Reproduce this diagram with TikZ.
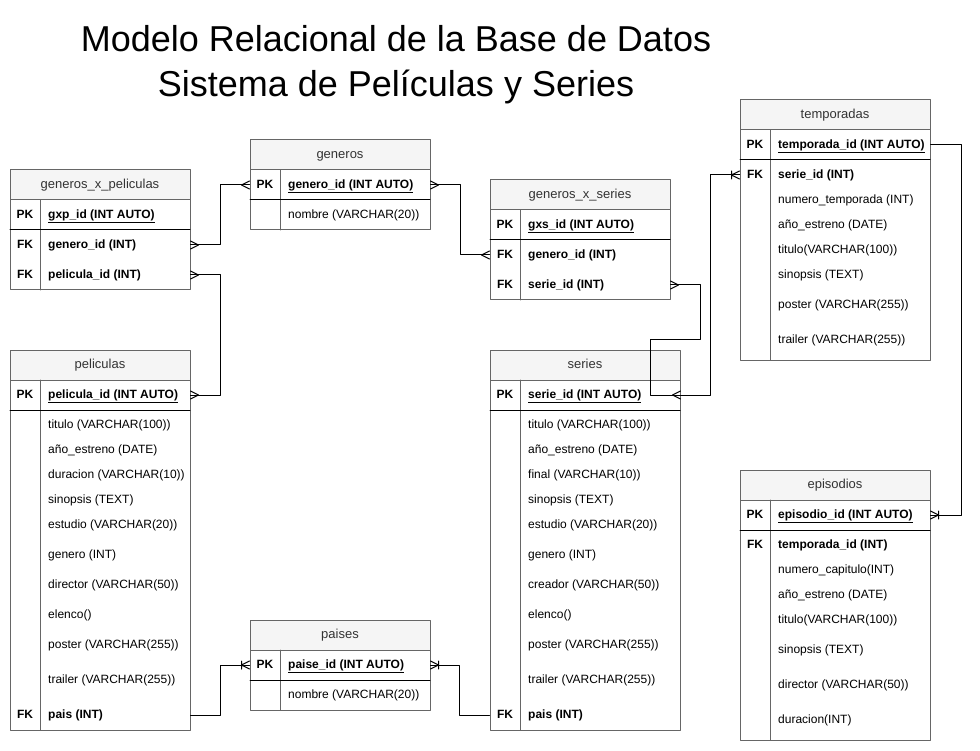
\documentclass[tikz,border=0pt]{standalone}
\usepackage{fontspec}
\setmainfont{Liberation Sans}
\definecolor{hdrfill}{HTML}{F5F5F5}
\definecolor{gridgray}{HTML}{666666}
\definecolor{hdrtext}{HTML}{333333}

\begin{document}
\begin{tikzpicture}[x=1pt, y=-1pt, line cap=round, line join=round,
  hdr/.style={draw=gridgray, line width=1pt, fill=hdrfill, minimum height=30pt, inner sep=0pt,
    text=hdrtext, text height=9.5pt, text depth=2.5pt, font=\fontsize{13}{15}\selectfont},
  outline/.style={draw=gridgray, line width=1pt},
  pksep/.style={draw=black, line width=1pt},
  keylbl/.style={inner sep=0pt, text height=9pt, text depth=2pt, font=\fontsize{12}{14}\selectfont\bfseries},
  fld/.style={anchor=west, inner sep=0pt, text height=9pt, text depth=2pt, font=\fontsize{12}{14}\selectfont},
  keyfld/.style={fld, font=\fontsize{12}{14}\selectfont\bfseries},
  rel/.style={draw=black, line width=1pt},
  many/.pic={\draw[rel] (8,0) -- (0,4) (8,0) -- (0,-4);},
  onemany/.pic={\draw[rel] (8,0) -- (0,4) (8,0) -- (0,-4) (8,4) -- (8,-4);}]

% Page size
\useasboundingbox (0,0) rectangle (980,751);

% Title
\node[anchor=base, font=\fontsize{36}{40}\selectfont] (titleA) at (396,52) {Modelo Relacional de la Base de Datos};
\node[anchor=base, font=\fontsize{36}{40}\selectfont] (titleB) at (396,97) {Sistema de Películas y Series};

% generos_x_peliculas
\node[hdr, minimum width=180pt] (gxp) at (100,185) {generos\_x\_peliculas};
\draw[outline] (10,200) rectangle (190,290);
\draw[outline] (40,200) -- (40,290);
\draw[pksep] (10,230) -- (190,230);
\node[keylbl] (gxp-pkk) at (25,215) {PK};
\node[keyfld] (gxp-pk) at (48,215) {\underline{gxp\_id (INT AUTO)}};
\node[keylbl] (gxp-fk1) at (25,245) {FK};
\node[keyfld] (gxp-genero) at (48,245) {genero\_id (INT)};
\node[keylbl] (gxp-fk2) at (25,275) {FK};
\node[keyfld] (gxp-pelicula) at (48,275) {pelicula\_id (INT)};

% generos
\node[hdr, minimum width=180pt] (generos) at (340,155) {generos};
\draw[outline] (250,170) rectangle (430,230);
\draw[outline] (280,170) -- (280,230);
\draw[pksep] (250,200) -- (430,200);
\node[keylbl] (generos-pkk) at (265,185) {PK};
\node[keyfld] (generos-pk) at (288,185) {\underline{genero\_id (INT AUTO)}};
\node[fld] (generos-nombre) at (288,215) {nombre (VARCHAR(20))};

% generos_x_series
\node[hdr, minimum width=180pt] (gxs) at (580,195) {generos\_x\_series};
\draw[outline] (490,210) rectangle (670,300);
\draw[outline] (520,210) -- (520,300);
\draw[pksep] (490,240) -- (670,240);
\node[keylbl] (gxs-pkk) at (505,225) {PK};
\node[keyfld] (gxs-pk) at (528,225) {\underline{gxs\_id (INT AUTO)}};
\node[keylbl] (gxs-fk1) at (505,255) {FK};
\node[keyfld] (gxs-genero) at (528,255) {genero\_id (INT)};
\node[keylbl] (gxs-fk2) at (505,285) {FK};
\node[keyfld] (gxs-serie) at (528,285) {serie\_id (INT)};

% temporadas
\node[hdr, minimum width=190pt] (temporadas) at (835,115) {temporadas};
\draw[outline] (740,130) rectangle (930,360);
\draw[outline] (770,130) -- (770,360);
\draw[pksep] (740,160) -- (930,160);
\node[keylbl] (temporadas-pkk) at (755,145) {PK};
\node[keyfld] (temporadas-pk) at (778,145) {\underline{temporada\_id (INT AUTO)}};
\node[keylbl] (temporadas-fk) at (755,175) {FK};
\node[keyfld] (temporadas-serie) at (778,175) {serie\_id (INT)};
\node[fld] (temporadas-numero) at (778,200) {numero\_temporada (INT)};
\node[fld] (temporadas-anio) at (778,225) {año\_estreno (DATE)};
\node[fld] (temporadas-titulo) at (778,250) {titulo(VARCHAR(100))};
\node[fld] (temporadas-sinopsis) at (778,275) {sinopsis (TEXT)};
\node[fld] (temporadas-poster) at (778,305) {poster (VARCHAR(255))};
\node[fld] (temporadas-trailer) at (778,340) {trailer (VARCHAR(255))};

% episodios
\node[hdr, minimum width=190pt] (episodios) at (835,485) {episodios};
\draw[outline] (740,500) rectangle (930,740);
\draw[outline] (770,500) -- (770,740);
\draw[pksep] (740,530) -- (930,530);
\node[keylbl] (episodios-pkk) at (755,515) {PK};
\node[keyfld] (episodios-pk) at (778,515) {\underline{episodio\_id (INT AUTO)}};
\node[keylbl] (episodios-fk) at (755,545) {FK};
\node[keyfld] (episodios-temporada) at (778,545) {temporada\_id (INT)};
\node[fld] (episodios-numero) at (778,570) {numero\_capitulo(INT)};
\node[fld] (episodios-anio) at (778,595) {año\_estreno (DATE)};
\node[fld] (episodios-titulo) at (778,620) {titulo(VARCHAR(100))};
\node[fld] (episodios-sinopsis) at (778,650) {sinopsis (TEXT)};
\node[fld] (episodios-director) at (778,685) {director (VARCHAR(50))};
\node[fld] (episodios-duracion) at (778,720) {duracion(INT)};

% peliculas
\node[hdr, minimum width=180pt] (peliculas) at (100,365) {peliculas};
\draw[outline] (10,380) rectangle (190,730);
\draw[outline] (40,380) -- (40,730);
\draw[pksep] (10,410) -- (190,410);
\node[keylbl] (peliculas-pkk) at (25,395) {PK};
\node[keyfld] (peliculas-pk) at (48,395) {\underline{pelicula\_id (INT AUTO)}};
\node[fld] (peliculas-titulo) at (48,425) {titulo (VARCHAR(100))};
\node[fld] (peliculas-anio) at (48,450) {año\_estreno (DATE)};
\node[fld] (peliculas-duracion) at (48,475) {duracion (VARCHAR(10))};
\node[fld] (peliculas-sinopsis) at (48,500) {sinopsis (TEXT)};
\node[fld] (peliculas-estudio) at (48,525) {estudio (VARCHAR(20))};
\node[fld] (peliculas-genero) at (48,555) {genero (INT)};
\node[fld] (peliculas-director) at (48,585) {director (VARCHAR(50))};
\node[fld] (peliculas-elenco) at (48,615) {elenco()};
\node[fld] (peliculas-poster) at (48,645) {poster (VARCHAR(255))};
\node[fld] (peliculas-trailer) at (48,680) {trailer (VARCHAR(255))};
\node[keylbl] (peliculas-fk) at (25,715) {FK};
\node[keyfld] (peliculas-pais) at (48,715) {pais (INT)};

% series
\node[hdr, minimum width=190pt] (series) at (585,365) {series};
\draw[outline] (490,380) rectangle (680,730);
\draw[outline] (520,380) -- (520,730);
\draw[pksep] (490,410) -- (680,410);
\node[keylbl] (series-pkk) at (505,395) {PK};
\node[keyfld] (series-pk) at (528,395) {\underline{serie\_id (INT AUTO)}};
\node[fld] (series-titulo) at (528,425) {titulo (VARCHAR(100))};
\node[fld] (series-anio) at (528,450) {año\_estreno (DATE)};
\node[fld] (series-final) at (528,475) {final (VARCHAR(10))};
\node[fld] (series-sinopsis) at (528,500) {sinopsis (TEXT)};
\node[fld] (series-estudio) at (528,525) {estudio (VARCHAR(20))};
\node[fld] (series-genero) at (528,555) {genero (INT)};
\node[fld] (series-creador) at (528,585) {creador (VARCHAR(50))};
\node[fld] (series-elenco) at (528,615) {elenco()};
\node[fld] (series-poster) at (528,645) {poster (VARCHAR(255))};
\node[fld] (series-trailer) at (528,680) {trailer (VARCHAR(255))};
\node[keylbl] (series-fk) at (505,715) {FK};
\node[keyfld] (series-pais) at (528,715) {pais (INT)};

% paises
\node[hdr, minimum width=180pt] (paises) at (340,635) {paises};
\draw[outline] (250,650) rectangle (430,710);
\draw[outline] (280,650) -- (280,710);
\draw[pksep] (250,680) -- (430,680);
\node[keylbl] (paises-pkk) at (265,665) {PK};
\node[keyfld] (paises-pk) at (288,665) {\underline{paise\_id (INT AUTO)}};
\node[fld] (paises-nombre) at (288,695) {nombre (VARCHAR(20))};

% Relations
\draw[rel] (gxp.east |- gxp-genero) -- ++(30,0) |- (generos.west |- generos-pk);
\draw[rel] (gxp.east |- gxp-pelicula) -- ++(30,0) |- (peliculas.east |- peliculas-pk);
\draw[rel] (generos.east |- generos-pk) -- ++(30,0) |- (gxs.west |- gxs-genero);
\draw[rel] (gxs.east |- gxs-serie) -- ++(30,0) -- ++(0,55) -- ++(-50,0) |- (series.east |- series-pk);
\draw[rel] (series.east |- series-pk) -- ++(30,0) |- (temporadas.west |- temporadas-serie);
\draw[rel] (temporadas.east |- temporadas-pk) -- ++(31,0) |- (episodios.east |- episodios-pk);
\draw[rel] (peliculas.east |- peliculas-pais) -- ++(30,0) |- (paises.west |- paises-pk);
\draw[rel] (series.west |- series-pais) -- ++(-30,0) |- (paises.east |- paises-pk);

% Crow's feet
\pic at (gxp.east |- gxp-genero) {many};
\pic[rotate=180] at (generos.west |- generos-pk) {many};
\pic at (gxp.east |- gxp-pelicula) {many};
\pic at (peliculas.east |- peliculas-pk) {many};
\pic at (generos.east |- generos-pk) {many};
\pic[rotate=180] at (gxs.west |- gxs-genero) {many};
\pic at (gxs.east |- gxs-serie) {many};
\pic[rotate=180] at (series.east |- series-pk) {many};
\pic[rotate=180] at (temporadas.west |- temporadas-serie) {onemany};
\pic at (episodios.east |- episodios-pk) {onemany};
\pic[rotate=180] at (paises.west |- paises-pk) {onemany};
\pic at (paises.east |- paises-pk) {onemany};

\end{tikzpicture}
\end{document}
